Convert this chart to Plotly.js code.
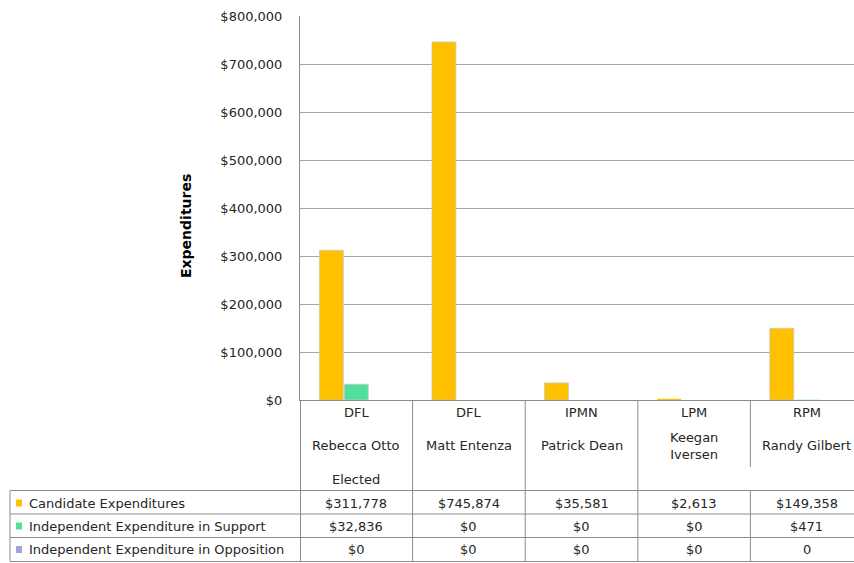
<!DOCTYPE html>
<html>
<head>
<meta charset="utf-8">
<script src="https://cdn.plot.ly/plotly-3.0.1.min.js"></script>
<style>
html,body{margin:0;padding:0;overflow:hidden;background:#fff;width:854px;height:563px;}
#chart{width:870px;height:563px;}
</style>
</head>
<body>
<div id="chart"></div>
<script>
// ---- data ----
const parties = ["DFL", "DFL", "IPMN", "LPM", "RPM"];
const candidates = ["Rebecca Otto", "Matt Entenza", "Patrick Dean", "Keegan<br>Iversen", "Randy Gilbert"];
const status = ["Elected", "", "", "", ""];
const seriesNames = ["Candidate Expenditures", "Independent Expenditure in Support", "Independent Expenditure in Opposition"];
const candidateExp = [311778, 745874, 35581, 2613, 149358];
const supportExp = [32836, 0, 0, 0, 471];
const oppositionExp = [0, 0, 0, 0, 0];
const candidateLabels = ["$311,778", "$745,874", "$35,581", "$2,613", "$149,358"];
const supportLabels = ["$32,836", "$0", "$0", "$0", "$471"];
const oppositionLabels = ["$0", "$0", "$0", "$0", "0"];
const yTickVals = [0, 100000, 200000, 300000, 400000, 500000, 600000, 700000, 800000];

// ---- styling ----
const colors = ["#FFC000", "#52DF9E", "#A3A3E3"];
const FONT = "DejaVu Sans, Verdana, sans-serif";
const TXT = "#262626";
const LINE = "#8c8c8c";
const plotL = 300, plotT = 16, plotB = 400, plotR = 863;
const W = 870, H = 563;
const xP = px => (px - plotL) / (plotR - plotL);
const yP = py => (plotB - py) / (plotB - plotT);

const xs = parties.map((_, i) => i);
const series = [candidateExp, supportExp, oppositionExp];
const traces = series.map((vals, k) => ({
  type: "bar",
  name: seriesNames[k],
  x: xs,
  y: vals,
  marker: {
    color: colors[k],
    line: {color: vals.map(v => v > 5000 ? "rgba(200,200,200,0.75)" : "rgba(0,0,0,0)"), width: 1}
  },
  hoverinfo: "skip"
}));

const shapes = [];
const annotations = [];
function hline(py, x0px, x1px) {
  shapes.push({type: "line", xref: "paper", yref: "paper", x0: xP(x0px), x1: xP(x1px), y0: yP(py), y1: yP(py), line: {color: LINE, width: 1}});
}
function vlineData(xv, py0, py1) {
  shapes.push({type: "line", xref: "x", yref: "paper", x0: xv, x1: xv, y0: yP(py0), y1: yP(py1), line: {color: LINE, width: 1}});
}
function vlinePx(px, py0, py1) {
  shapes.push({type: "line", xref: "paper", yref: "paper", x0: xP(px), x1: xP(px), y0: yP(py0), y1: yP(py1), line: {color: LINE, width: 1}});
}

// table grid
[490.5, 514, 537.5, 561.5].forEach(py => hline(py, 10, plotR + 5));
vlinePx(10, 490.5, 561.5);
vlinePx(300.5, 400, 561.5);
[0.5, 1.5, 2.5].forEach(xv => vlineData(xv, 400, 561.5));
vlineData(3.5, 400, 467);
vlineData(3.5, 490.5, 561.5);

// header text
const f = {family: FONT, size: 13, color: TXT};
xs.forEach(i => {
  annotations.push({xref: "x", yref: "paper", x: i, y: yP(412), text: parties[i], showarrow: false, font: f, yanchor: "middle"});
  annotations.push({xref: "x", yref: "paper", x: i, y: yP(i === 3 ? 446 : 445), text: candidates[i], showarrow: false, font: f, yanchor: "middle"});
  if (status[i]) annotations.push({xref: "x", yref: "paper", x: i, y: yP(479), text: status[i], showarrow: false, font: f, yanchor: "middle"});
});

// table rows
const rowY = [503, 526, 549.5];
const rowLabels = [candidateLabels, supportLabels, oppositionLabels];
rowLabels.forEach((labs, k) => {
  shapes.push({type: "rect", xref: "paper", yref: "paper", x0: xP(16), x1: xP(22), y0: yP(rowY[k] - 3.5), y1: yP(rowY[k] + 3.5), fillcolor: colors[k], line: {width: 0}});
  annotations.push({xref: "paper", yref: "paper", x: xP(27), y: yP(rowY[k]), xanchor: "left", yanchor: "middle", text: seriesNames[k], showarrow: false, font: f});
  labs.forEach((t, i) => annotations.push({xref: "x", yref: "paper", x: i, y: yP(rowY[k]), text: t, showarrow: false, font: f, yanchor: "middle"}));
});

// y axis title
annotations.push({xref: "paper", yref: "paper", x: xP(186), y: yP(226), text: "<b>Expenditures</b>", textangle: -90, showarrow: false, font: {family: FONT, size: 14, color: "#000"}, xanchor: "center", yanchor: "middle"});

const layout = {
  width: W, height: H,
  margin: {l: plotL, r: W - plotR, t: plotT, b: H - plotB, pad: 0},
  paper_bgcolor: "#fff", plot_bgcolor: "#fff",
  showlegend: false,
  barmode: "group",
  bargap: 0.335,
  bargroupgap: 0.04,
  font: {family: FONT, size: 13, color: TXT},
  xaxis: {type: "linear", range: [-0.5, 4.5], showticklabels: false, showgrid: false, zeroline: false, showline: true, linecolor: LINE, linewidth: 1, ticks: "", fixedrange: true},
  yaxis: {range: [0, 800000], tickvals: yTickVals, tickformat: "$,.0f", showgrid: true, gridcolor: "#a6a6a6", gridwidth: 1, zeroline: false, showline: true, linecolor: LINE, linewidth: 1, ticks: "", ticklabelstandoff: 14, tickfont: {family: FONT, size: 13, color: TXT}, fixedrange: true},
  shapes: shapes,
  annotations: annotations
};

Plotly.newPlot("chart", traces, layout, {displayModeBar: false, staticPlot: true});
</script>
</body>
</html>
